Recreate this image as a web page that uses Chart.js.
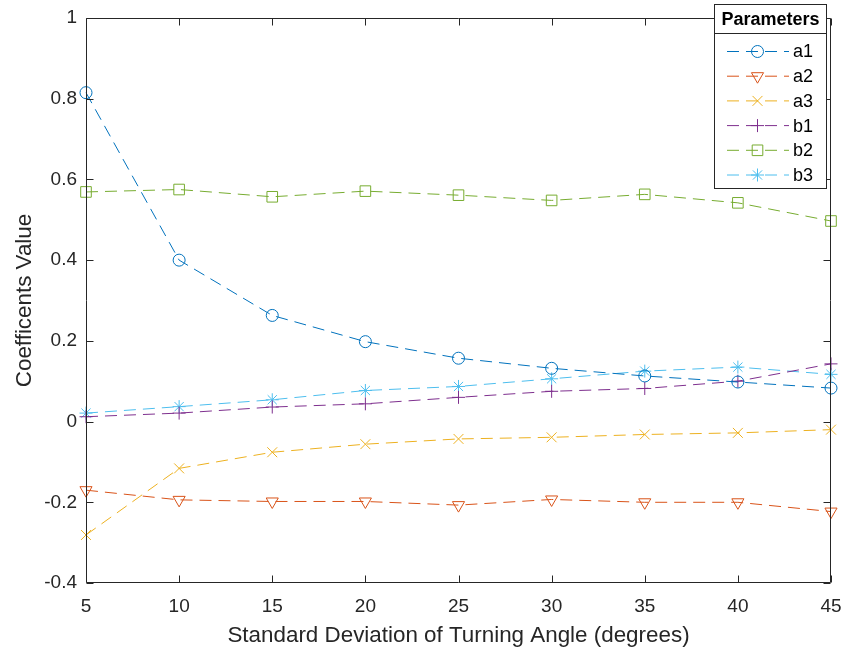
<!DOCTYPE html>
<html>
<head>
<meta charset="utf-8">
<script src="https://cdn.jsdelivr.net/npm/chart.js@4/dist/chart.umd.min.js"></script>
<style>
  html, body { margin: 0; padding: 0; background: #fff; }
  #wrap { width: 846px; height: 653px; }
</style>
</head>
<body>
<div id="wrap"><canvas id="chart"></canvas></div>
<script>
// data
const angles = [5, 10, 15, 20, 25, 30, 35, 40, 45];
const a1 = [0.815, 0.400, 0.263, 0.198, 0.157, 0.132, 0.113, 0.098, 0.083];
const a2 = [-0.170, -0.194, -0.198, -0.198, -0.207, -0.193, -0.200, -0.200, -0.223];
const a3 = [-0.281, -0.116, -0.076, -0.056, -0.043, -0.039, -0.032, -0.028, -0.020];
const b1 = [0.012, 0.021, 0.036, 0.044, 0.060, 0.075, 0.082, 0.100, 0.143];
const b2 = [0.569, 0.575, 0.557, 0.571, 0.561, 0.548, 0.563, 0.542, 0.497];
const b3 = [0.021, 0.037, 0.054, 0.077, 0.087, 0.106, 0.125, 0.135, 0.117];
const seriesNames = ['a1', 'a2', 'a3', 'b1', 'b2', 'b3'];
const xTicks = [5, 10, 15, 20, 25, 30, 35, 40, 45];
const yTicks = [-0.4, -0.2, 0, 0.2, 0.4, 0.6, 0.8, 1];
const yTickLabels = ['-0.4', '-0.2', '0', '0.2', '0.4', '0.6', '0.8', '1'];

const FONT = "'Liberation Sans', Arial, Helvetica, sans-serif";
const AXIS = '#262626';

const styles = [
  { color: '#0072BD', pointStyle: 'circle', radius: 6, rotation: 0 },
  { color: '#D95319', pointStyle: 'triangle', radius: 7, rotation: 180 },
  { color: '#EDB120', pointStyle: 'crossRot', radius: 7, rotation: 0 },
  { color: '#7E2F8E', pointStyle: 'cross', radius: 6.5, rotation: 0 },
  { color: '#77AC30', pointStyle: 'rect', radius: 7.5, rotation: 0 },
  { color: '#4DBEEE', pointStyle: 'star', radius: 6.5, rotation: 0 }
];

const allSeries = [a1, a2, a3, b1, b2, b3];
const datasets = allSeries.map((vals, i) => {
  const s = styles[i];
  return {
    label: seriesNames[i],
    data: angles.map((x, j) => ({ x: x, y: vals[j] })),
    borderColor: s.color,
    borderWidth: 1,
    borderDash: [12, 7],
    pointStyle: s.pointStyle,
    pointRadius: s.radius,
    pointHoverRadius: s.radius,
    pointRotation: s.rotation,
    pointBorderColor: s.color,
    pointBackgroundColor: 'rgba(0,0,0,0)',
    pointBorderWidth: 1,
    tension: 0,
    fill: false,
    clip: false
  };
});

// axes box with inward ticks (MATLAB style)
const boxPlugin = {
  id: 'box',
  afterDatasetsDraw(chart) {
    const ctx = chart.ctx;
    const area = chart.chartArea;
    const l = Math.round(area.left) + 0.5, r = Math.round(area.right) - 0.5;
    const t = Math.round(area.top) + 0.5, b = Math.round(area.bottom) - 0.5;
    const tl = 7;
    ctx.save();
    ctx.strokeStyle = AXIS;
    ctx.lineWidth = 1;
    ctx.beginPath();
    ctx.rect(l, t, r - l, b - t);
    chart.scales.x.ticks.forEach(tk => {
      const px = Math.round(chart.scales.x.getPixelForValue(tk.value)) + 0.5;
      ctx.moveTo(px, b); ctx.lineTo(px, b - tl);
      ctx.moveTo(px, t); ctx.lineTo(px, t + tl);
    });
    chart.scales.y.ticks.forEach(tk => {
      const py = Math.round(chart.scales.y.getPixelForValue(tk.value)) + 0.5;
      ctx.moveTo(l, py); ctx.lineTo(l + tl, py);
      ctx.moveTo(r, py); ctx.lineTo(r - tl, py);
    });
    ctx.stroke();
    ctx.restore();
  }
};

// legend box with title, drawn like the MATLAB one
const legendPlugin = {
  id: 'matlabLegend',
  afterDraw(chart) {
    const ctx = chart.ctx;
    const x0 = 714.5, y0 = 4.5, w = 112, h = 184;
    const titleH = 29;
    ctx.save();
    ctx.fillStyle = '#fff';
    ctx.fillRect(x0, y0, w, h);
    ctx.strokeStyle = AXIS;
    ctx.lineWidth = 1;
    ctx.strokeRect(x0, y0, w, h);
    ctx.beginPath();
    ctx.moveTo(x0, y0 + titleH);
    ctx.lineTo(x0 + w, y0 + titleH);
    ctx.stroke();

    ctx.fillStyle = '#000';
    ctx.font = 'bold 18px ' + FONT;
    ctx.textAlign = 'center';
    ctx.textBaseline = 'middle';
    ctx.fillText('Parameters', x0 + w / 2, y0 + titleH / 2 + 1);

    chart.data.datasets.forEach((ds, i) => {
      const y = 51.5 + i * 24.7;
      ctx.strokeStyle = ds.borderColor;
      ctx.lineWidth = 1;
      ctx.setLineDash([12, 7]);
      ctx.beginPath();
      ctx.moveTo(727, y);
      ctx.lineTo(789, y);
      ctx.stroke();
      ctx.setLineDash([]);
      ctx.fillStyle = 'rgba(0,0,0,0)';
      Chart.helpers.drawPoint(ctx, {
        pointStyle: ds.pointStyle,
        radius: ds.pointRadius,
        rotation: ds.pointRotation,
        borderWidth: 1
      }, 757.5, y);
      ctx.fillStyle = '#000';
      ctx.font = '18px ' + FONT;
      ctx.textAlign = 'left';
      ctx.fillText(ds.label, 793, y + 1);
    });
    ctx.restore();
  }
};

new Chart(document.getElementById('chart'), {
  type: 'line',
  data: { datasets: datasets },
  options: {
    responsive: true,
    maintainAspectRatio: false,
    animation: false,
    events: [],
    layout: { padding: { top: 18, right: 15, left: 0, bottom: 0 }, autoPadding: false },
    plugins: {
      legend: { display: false },
      tooltip: { enabled: false }
    },
    scales: {
      x: {
        type: 'linear',
        min: 5,
        max: 45,
        grid: { display: false, drawTicks: false, tickLength: 0 },
        border: { display: false },
        afterBuildTicks: (scale) => { scale.ticks = xTicks.map(v => ({ value: v })); },
        afterFit: (scale) => {
          scale.height = 70;
          scale.paddingLeft = 0;
          scale.paddingRight = 0;
        },
        ticks: {
          font: { family: FONT, size: 19 },
          color: AXIS,
          padding: 12,
          maxRotation: 0,
          autoSkip: false,
          callback: (v) => String(v)
        },
        title: {
          display: true,
          text: 'Standard Deviation of Turning Angle (degrees)',
          font: { family: FONT, size: 22.4 },
          color: AXIS,
          padding: { top: 0, bottom: 4 }
        }
      },
      y: {
        type: 'linear',
        min: -0.4,
        max: 1,
        grid: { display: false, drawTicks: false, tickLength: 0 },
        border: { display: false },
        afterBuildTicks: (scale) => { scale.ticks = yTicks.map(v => ({ value: v })); },
        afterFit: (scale) => {
          scale.width = 86;
          scale.paddingTop = 0;
          scale.paddingBottom = 0;
        },
        ticks: {
          font: { family: FONT, size: 19 },
          color: AXIS,
          padding: 9,
          autoSkip: false,
          callback: (v) => {
            const k = yTicks.findIndex(t => Math.abs(t - v) < 1e-9);
            return k >= 0 ? yTickLabels[k] : '';
          }
        },
        title: {
          display: true,
          text: 'Coefficents Value',
          font: { family: FONT, size: 22.4 },
          color: AXIS,
          padding: { top: 11, bottom: 0 }
        }
      }
    }
  },
  plugins: [boxPlugin, legendPlugin]
});
</script>
</body>
</html>
